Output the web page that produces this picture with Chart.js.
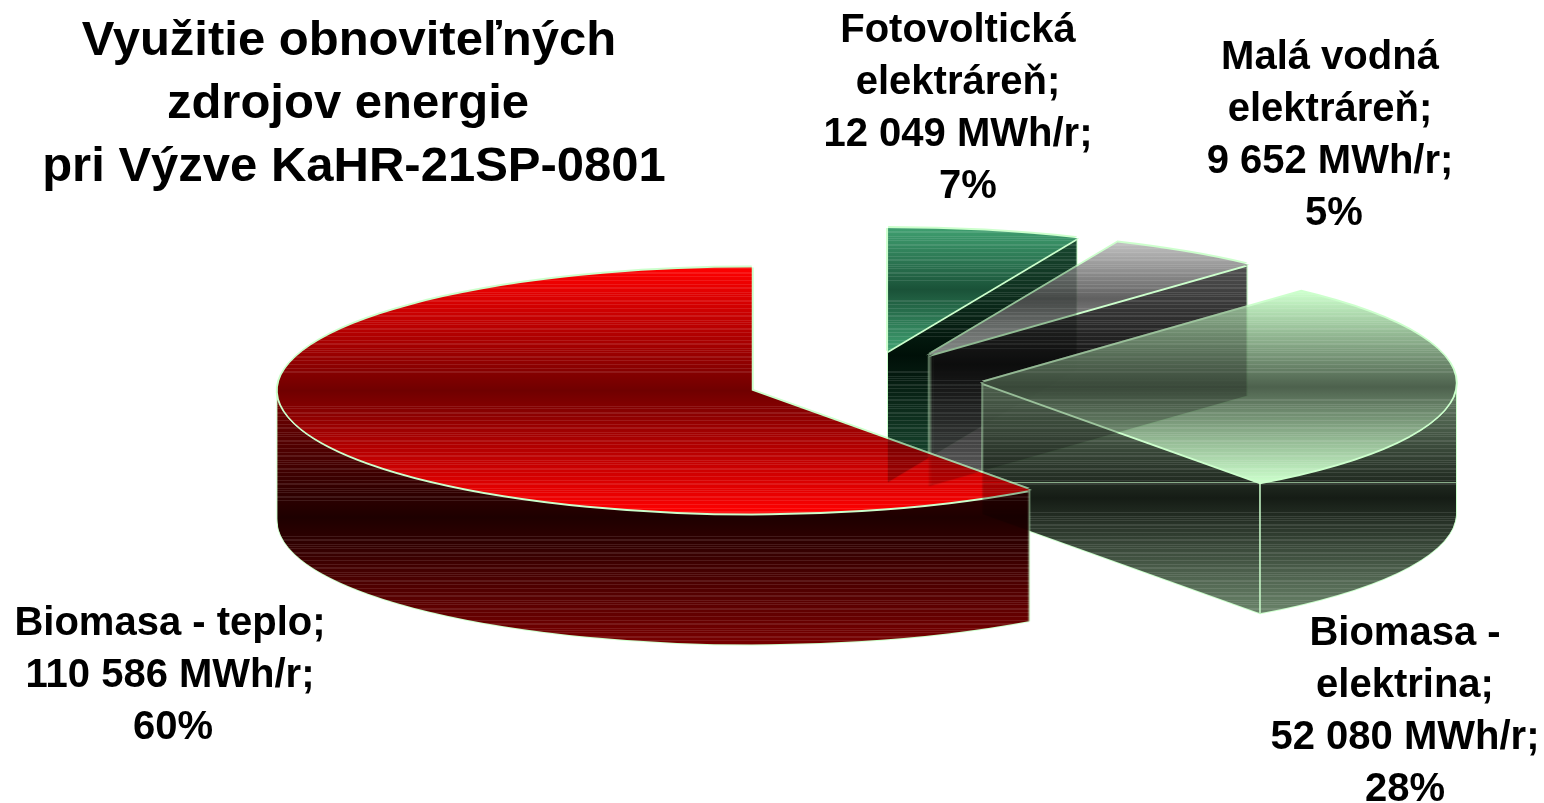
<!DOCTYPE html>
<html lang="sk">
<head>
<meta charset="utf-8">
<title>Využitie obnoviteľných zdrojov energie</title>
<style>
  html, body { margin: 0; padding: 0; background: #fff; overflow: hidden; }
  #wrap { width: 1544px; height: 803px; }
</style>
</head>
<body>
<div id="wrap"><canvas id="pieChart"></canvas></div>
<script src="https://cdn.jsdelivr.net/npm/chart.js@4"></script>
<script>
// DATA
const titleLines = ["Využitie obnoviteľných", "zdrojov energie", "pri Výzve KaHR-21SP-0801"];
const categories = ["Fotovoltická elektráreň", "Malá vodná elektráreň", "Biomasa - elektrina", "Biomasa - teplo"];
const energyValues = [12049, 9652, 52080, 110586];
const percents = [7, 5, 28, 60];
const unit = "MWh/r";

// LABEL LAYOUT (how each name is broken, and where the block sits)
const nameLines = [["Fotovoltická", "elektráreň;"], ["Malá vodná", "elektráreň;"], ["Biomasa -", "elektrina;"], ["Biomasa - teplo;"]];
const labelCenterX = [958, 1330, 1405, 170];
const labelFirstY = [31, 58, 634, 624];
const percentShiftX = [10, 4, 0, 3];
const titleCenterX = [349, 348, 354];

// 3D LOOK
const RADIUS = 474;
const SQUASH = 0.2595;   // tilt of the pie
const DEPTH = 131;       // height of the wall in px
const EXPLODE = 118;     // how far slices are pulled out
const SEE_THROUGH = 0.3; // how much of what lies behind shows through
const EDGE = "#ccffcc";
const topColors = [["#3f9f70", "#1a5238"], ["#c0c0c0", "#606060"], ["#ccffcc", "#4d614d"], ["#ff0000", "#700000"]];
const wallColors = [["#1c4f35", "#001008"], ["#606060", "#111111"], ["#6a846a", "#151c15"], ["#780000", "#1e0000"]];
const wallSeam = [false, false, true, false]; // pale line where the top face ends

function makeScratch(w, h) {
    const c = document.createElement("canvas");
    c.width = w;
    c.height = h;
    return c;
}

function verticalGradient(ctx, y0, y1, colors) {
    const g = ctx.createLinearGradient(0, y0, 0, y1);
    g.addColorStop(0, colors[0]);
    g.addColorStop(0.5, colors[1]);
    g.addColorStop(1, colors[0]);
    return g;
}

// Stamps the library's arc at the given depths, then tints the stamp
function stampArc(scratch, arc, shift, depths, fill) {
    const sc = scratch.getContext("2d");
    sc.clearRect(0, 0, scratch.width, scratch.height);
    depths.forEach(d => {
        sc.save();
        sc.translate(shift.x, arc.y + shift.y + d);
        sc.scale(1, SQUASH);
        sc.translate(0, -arc.y);
        arc.draw(sc);
        sc.restore();
    });
    sc.globalCompositeOperation = "source-in";
    sc.fillStyle = fill;
    sc.fillRect(0, 0, scratch.width, scratch.height);
    sc.globalCompositeOperation = "source-over";
}

// The banding of the old renderer: thin pale lines, none around the dark middle
function addBanding(scratch, y0, y1) {
    const sc = scratch.getContext("2d");
    const mid = (y0 + y1) / 2;
    const half = (y1 - y0) / 2;
    sc.globalCompositeOperation = "source-atop";
    sc.fillStyle = "rgba(255,255,255,0.1)";
    for (let y = Math.floor(y0); y <= y1; y++) {
        if (Math.abs(y - mid) / half > 0.12 && (y % 4 === 0 || y % 7 === 0)) {
            sc.fillRect(0, y, scratch.width, 1);
        }
    }
    sc.globalCompositeOperation = "source-over";
}

function paintSurface(layerCtx, scratch, arc, shift, depths, colors, y0, y1, edgeWidth, seamY) {
    stampArc(scratch, arc, shift, depths, EDGE);
    [[-1, 0], [1, 0], [0, -1], [0, 1]].forEach(o => layerCtx.drawImage(scratch, o[0] * edgeWidth, o[1] * edgeWidth));
    stampArc(scratch, arc, shift, depths, verticalGradient(layerCtx, y0, y1, colors));
    addBanding(scratch, y0, y1);
    if (seamY !== undefined) {
        const sc = scratch.getContext("2d");
        sc.globalCompositeOperation = "source-atop";
        sc.fillStyle = "rgba(204,255,204,0.6)";
        sc.fillRect(0, Math.round(seamY), scratch.width, 1);
        sc.globalCompositeOperation = "source-over";
    }
    layerCtx.drawImage(scratch, 0, 0);
}

const pie3d = {
    id: "pie3d",
    beforeDatasetDraw(chart, args) {
        const ctx = chart.ctx;
        const W = chart.canvas.width;
        const H = chart.canvas.height;
        const scratch = makeScratch(W, H);
        const layer = makeScratch(W, H);
        const behind = makeScratch(W, H);
        const lc = layer.getContext("2d");
        const bc = behind.getContext("2d");

        args.meta.data.forEach((arc, i) => {
            const mid = (arc.startAngle + arc.endAngle) / 2;
            const shift = { x: Math.cos(mid) * EXPLODE, y: Math.sin(mid) * EXPLODE * SQUASH };
            const apexY = arc.y + shift.y;

            // vertical extent of the top face
            let minY = apexY, maxY = apexY;
            for (let s = 0; s <= 200; s++) {
                const a = arc.startAngle + (arc.endAngle - arc.startAngle) * s / 200;
                const y = apexY + Math.sin(a) * arc.outerRadius * SQUASH;
                minY = Math.min(minY, y);
                maxY = Math.max(maxY, y);
            }
            // slices reaching the side of the pie start their wall shading at the apex
            const wallTop = (arc.endAngle - arc.startAngle) > Math.PI / 2 ? apexY : minY;

            const wallDepths = [];
            for (let d = DEPTH; d >= 1; d--) wallDepths.push(d);

            lc.clearRect(0, 0, W, H);
            paintSurface(lc, scratch, arc, shift, wallDepths, wallColors[i], wallTop, maxY + DEPTH, 1, wallSeam[i] ? maxY : undefined);

            // front corner of the wall
            if (Math.sin(arc.endAngle) > 0) {
                const cx = arc.x + shift.x + Math.cos(arc.endAngle) * arc.outerRadius;
                const cy = apexY + Math.sin(arc.endAngle) * arc.outerRadius * SQUASH;
                lc.strokeStyle = EDGE;
                lc.lineWidth = 1.5;
                lc.beginPath();
                lc.moveTo(cx, cy);
                lc.lineTo(cx, cy + DEPTH);
                lc.stroke();
            }

            paintSurface(lc, scratch, arc, shift, [0], topColors[i], minY, maxY, 2);

            // what is already on the chart inside this slice
            bc.globalCompositeOperation = "copy";
            bc.drawImage(chart.canvas, 0, 0);
            bc.globalCompositeOperation = "destination-in";
            bc.drawImage(layer, 0, 0);

            ctx.save();
            ctx.setTransform(1, 0, 0, 1, 0, 0);
            ctx.drawImage(layer, 0, 0);
            ctx.globalCompositeOperation = "multiply";
            ctx.globalAlpha = SEE_THROUGH;
            ctx.drawImage(behind, 0, 0);
            ctx.restore();
        });
        return false;
    },
    afterDatasetsDraw(chart) {
        const ctx = chart.ctx;
        ctx.save();
        ctx.fillStyle = "#000";
        ctx.textAlign = "center";
        ctx.textBaseline = "middle";

        ctx.font = "bold 49px 'Liberation Sans'";
        titleLines.forEach((t, i) => ctx.fillText(t, titleCenterX[i], 41 + i * 63));

        ctx.font = "bold 40px 'Liberation Sans'";
        categories.forEach((c, i) => {
            const valueText = String(energyValues[i]).replace(/\B(?=(\d{3})+$)/g, " ");
            const lines = nameLines[i].concat([`${valueText} ${unit};`]);
            lines.forEach((t, j) => ctx.fillText(t, labelCenterX[i], labelFirstY[i] + j * 52));
            ctx.fillText(`${percents[i]}%`, labelCenterX[i] + percentShiftX[i], labelFirstY[i] + lines.length * 52);
        });
        ctx.restore();
    }
};

new Chart(document.getElementById("pieChart"), {
    type: "pie",
    data: {
        labels: categories,
        datasets: [{
            data: energyValues,
            backgroundColor: "#000",
            borderWidth: 0
        }]
    },
    options: {
        responsive: true,
        maintainAspectRatio: false,
        animation: false,
        radius: RADIUS,
        layout: { padding: { left: 184, bottom: 41 } },
        events: [],
        plugins: { legend: { display: false }, tooltip: { enabled: false } }
    },
    plugins: [pie3d]
});
</script>
</body>
</html>
